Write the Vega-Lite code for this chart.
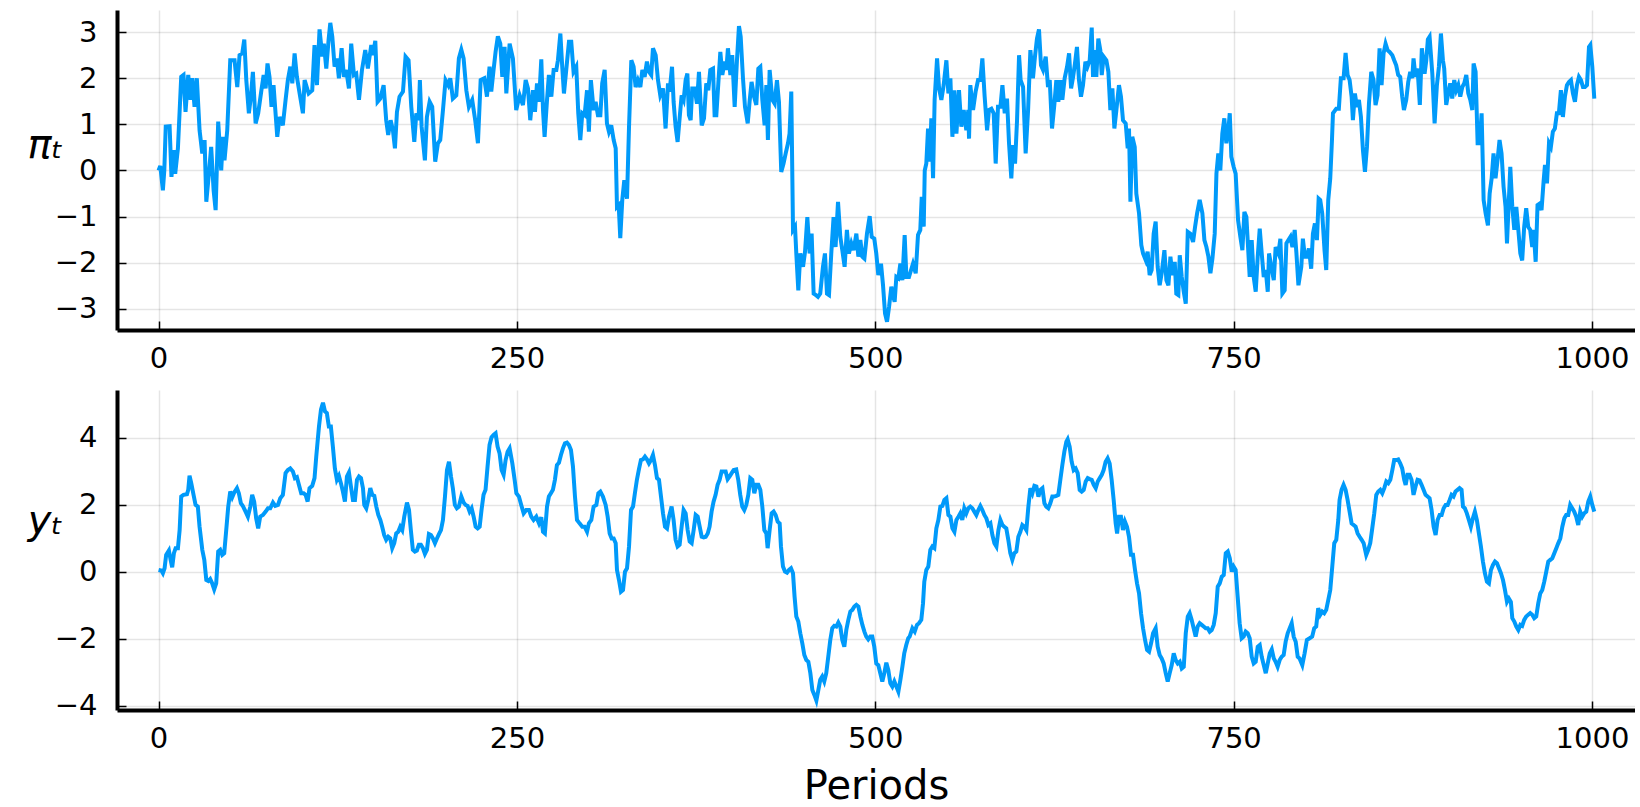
{
"$schema":"https://vega.github.io/schema/vega-lite/v6.json",
"background":"white",
"padding":{"left":27,"top":10,"right":0,"bottom":0},
"spacing":17,
"config":{
 "view":{"stroke":null},
 "font":"DejaVu Sans",
 "axis":{"domainColor":"black","domainWidth":4,"tickColor":"black","tickWidth":1.5,"tickSize":-9,"labelFontSize":29,"labelColor":"black","labelFont":"DejaVu Sans","gridColor":"#000000","gridOpacity":0.1,"gridWidth":1.5,"titleFont":"DejaVu Sans","titleColor":"black","titleFontWeight":"normal","titleFontSize":40},
 "axisX":{"labelPadding":23,"format":"d"},
 "axisY":{"labelPadding":29,"titleAngle":0,"titleFontStyle":"italic","titleAlign":"center","titleBaseline":"alphabetic","titleX":-72}
},
"datasets":{
"pi":[{"t":0,"v":0},{"t":1.2,"v":0.1},{"t":3,"v":-0.43},{"t":4,"v":0},{"t":5,"v":0.95},{"t":7.7,"v":0.96},{"t":9,"v":-0.14},{"t":10.5,"v":0.44},{"t":11.6,"v":-0.07},{"t":13.5,"v":0.48},{"t":15.8,"v":2.03},{"t":17.4,"v":2.07},{"t":18.8,"v":1.27},{"t":20.7,"v":2.07},{"t":22.3,"v":1.53},{"t":23.5,"v":2.0},{"t":25.1,"v":1.38},{"t":26.7,"v":2.0},{"t":28.6,"v":0.87},{"t":30.5,"v":0.37},{"t":32.1,"v":0.66},{"t":33.3,"v":-0.68},{"t":34.7,"v":-0.21},{"t":36.7,"v":0.51},{"t":38.4,"v":-0.43},{"t":39.8,"v":-0.86},{"t":41.6,"v":1.06},{"t":43.7,"v":0},{"t":44.9,"v":0.73},{"t":46,"v":0.22},{"t":47.9,"v":0.87},{"t":50,"v":2.39},{"t":53,"v":2.39},{"t":54.9,"v":1.81},{"t":56.5,"v":2.5},{"t":58.4,"v":2.54},{"t":59.8,"v":2.84},{"t":61.2,"v":1.96},{"t":63,"v":1.24},{"t":64.4,"v":1.6},{"t":65.8,"v":2.14},{"t":67.7,"v":1.02},{"t":69.5,"v":1.24},{"t":71.6,"v":1.71},{"t":73.3,"v":2.07},{"t":74.7,"v":1.78},{"t":76,"v":2.32},{"t":77.4,"v":2.03},{"t":78.8,"v":1.38},{"t":80.2,"v":1.85},{"t":82.8,"v":0.73},{"t":84.4,"v":1.16},{"t":86.7,"v":0.98},{"t":88.6,"v":1.53},{"t":90.2,"v":1.96},{"t":91.9,"v":2.25},{"t":93.3,"v":1.89},{"t":94.9,"v":2.54},{"t":96.5,"v":2.03},{"t":98.4,"v":1.67},{"t":100.7,"v":1.24},{"t":101.9,"v":1.96},{"t":104.7,"v":1.67},{"t":107.2,"v":1.74},{"t":108.8,"v":2.72},{"t":110.5,"v":1.85},{"t":112.3,"v":3.06},{"t":114.2,"v":2.47},{"t":115.3,"v":2.75},{"t":117,"v":2.21},{"t":118.6,"v":2.83},{"t":119.8,"v":3.2},{"t":121.2,"v":2.9},{"t":122.8,"v":2.25},{"t":124.4,"v":2.43},{"t":125.8,"v":2.0},{"t":127.7,"v":2.65},{"t":129.3,"v":2.03},{"t":130.9,"v":2.18},{"t":132.8,"v":1.78},{"t":134.4,"v":2.75},{"t":136.3,"v":2.07},{"t":137.9,"v":2.1},{"t":139.8,"v":1.53},{"t":141.9,"v":2.18},{"t":144.2,"v":2.61},{"t":146,"v":2.21},{"t":148.4,"v":2.72},{"t":149.5,"v":2.5},{"t":151.2,"v":2.81},{"t":152.8,"v":1.49},{"t":154.7,"v":1.56},{"t":157,"v":1.85},{"t":158.8,"v":1.09},{"t":160.2,"v":0.77},{"t":161.9,"v":1.09},{"t":163.5,"v":0.87},{"t":164.9,"v":0.48},{"t":166.3,"v":1.27},{"t":168.1,"v":1.6},{"t":170.5,"v":1.71},{"t":172.3,"v":2.47},{"t":174.4,"v":2.39},{"t":176.3,"v":1.38},{"t":178.4,"v":0.62},{"t":179.8,"v":1.24},{"t":181.4,"v":1.09},{"t":182.3,"v":1.96},{"t":183.5,"v":0.95},{"t":185.8,"v":0.22},{"t":187.2,"v":1.16},{"t":189.1,"v":1.49},{"t":190.9,"v":1.38},{"t":193,"v":0.19},{"t":194.9,"v":0.59},{"t":196.5,"v":0.66},{"t":198.4,"v":1.31},{"t":200.2,"v":1.96},{"t":202.1,"v":1.85},{"t":203.5,"v":2.0},{"t":205.3,"v":1.56},{"t":207.7,"v":1.63},{"t":209.5,"v":2.43},{"t":211.2,"v":2.62},{"t":212.8,"v":2.43},{"t":214.7,"v":1.74},{"t":216.5,"v":1.38},{"t":218.8,"v":1.53},{"t":220.9,"v":1.09},{"t":222.8,"v":0.59},{"t":224.7,"v":1.96},{"t":227.2,"v":2.0},{"t":229.1,"v":1.6},{"t":230.9,"v":2.25},{"t":232.1,"v":1.71},{"t":233.7,"v":2.18},{"t":235.1,"v":2.57},{"t":236.7,"v":2.91},{"t":238.4,"v":2.75},{"t":239.8,"v":2.03},{"t":241.4,"v":2.68},{"t":242.6,"v":1.67},{"t":244.9,"v":2.75},{"t":247.2,"v":2.43},{"t":249.5,"v":1.31},{"t":251.9,"v":1.63},{"t":254.2,"v":1.42},{"t":256.1,"v":1.96},{"t":257.7,"v":1.78},{"t":259.3,"v":1.09},{"t":261.2,"v":1.74},{"t":262.6,"v":1.27},{"t":264,"v":1.89},{"t":265.4,"v":1.49},{"t":267,"v":2.41},{"t":268.2,"v":1.31},{"t":269.3,"v":0.73},{"t":271,"v":1.53},{"t":272.3,"v":2.07},{"t":274,"v":1.6},{"t":275.6,"v":2.18},{"t":277.5,"v":2.18},{"t":278.6,"v":2.39},{"t":280.3,"v":2.97},{"t":281.6,"v":2.25},{"t":282.8,"v":1.67},{"t":284.4,"v":2.18},{"t":286.3,"v":2.79},{"t":287.9,"v":2.79},{"t":289.5,"v":2.14},{"t":291.4,"v":2.25},{"t":292.8,"v":1.24},{"t":294.2,"v":0.66},{"t":295.6,"v":1.24},{"t":297.2,"v":1.2},{"t":298.9,"v":1.74},{"t":300.2,"v":0.84},{"t":301.6,"v":1.96},{"t":303.5,"v":1.31},{"t":304.9,"v":1.49},{"t":306.5,"v":1.2},{"t":308.2,"v":1.2},{"t":309.5,"v":1.89},{"t":311.2,"v":2.18},{"t":312.8,"v":1.02},{"t":314.2,"v":0.84},{"t":315.8,"v":0.98},{"t":317.5,"v":0.66},{"t":318.9,"v":0.48},{"t":319.8,"v":-0.79},{"t":321,"v":-0.75},{"t":322.1,"v":-1.47},{"t":323.5,"v":-0.64},{"t":324.9,"v":-0.21},{"t":326.8,"v":-0.61},{"t":328.2,"v":0.95},{"t":329.8,"v":2.39},{"t":331.4,"v":2.25},{"t":332.8,"v":1.81},{"t":334.4,"v":1.96},{"t":336.1,"v":1.81},{"t":337.5,"v":2.18},{"t":339.1,"v":2.03},{"t":340.7,"v":2.36},{"t":342.1,"v":2.14},{"t":343.7,"v":2.07},{"t":344.9,"v":2.65},{"t":346.8,"v":2.5},{"t":348.4,"v":1.96},{"t":350,"v":1.63},{"t":351.9,"v":1.78},{"t":353.7,"v":0.91},{"t":355.4,"v":1.89},{"t":356.5,"v":1.71},{"t":358.2,"v":2.25},{"t":359.3,"v":1.49},{"t":360.7,"v":0.95},{"t":362.1,"v":0.62},{"t":363.5,"v":1.13},{"t":364.9,"v":1.63},{"t":366.3,"v":1.53},{"t":367.7,"v":1.96},{"t":368.9,"v":2.1},{"t":370,"v":1.2},{"t":371.2,"v":1.09},{"t":372.3,"v":1.78},{"t":374,"v":1.78},{"t":375.6,"v":1.45},{"t":377,"v":2.14},{"t":378.9,"v":0.98},{"t":380.5,"v":1.13},{"t":382.1,"v":1.89},{"t":383.5,"v":1.74},{"t":384.9,"v":2.18},{"t":386.8,"v":2.21},{"t":387.9,"v":1.2},{"t":389.1,"v":1.2},{"t":390.5,"v":1.89},{"t":391.9,"v":2.57},{"t":393.3,"v":2.07},{"t":394.9,"v":2.36},{"t":396.1,"v":2.18},{"t":397.2,"v":2.65},{"t":398.9,"v":2.07},{"t":400.2,"v":2.5},{"t":401.9,"v":1.38},{"t":403.5,"v":2.39},{"t":404.9,"v":3.13},{"t":406.1,"v":2.9},{"t":407.7,"v":2.0},{"t":409.1,"v":1.38},{"t":411,"v":1.02},{"t":412.3,"v":1.49},{"t":413.7,"v":1.92},{"t":415.4,"v":1.6},{"t":417,"v":1.42},{"t":418.4,"v":2.21},{"t":419.8,"v":2.25},{"t":421.2,"v":1.53},{"t":422.8,"v":0.98},{"t":424,"v":1.85},{"t":425.1,"v":0.66},{"t":426.3,"v":2.18},{"t":428.2,"v":1.53},{"t":429.8,"v":1.45},{"t":431.4,"v":1.96},{"t":432.8,"v":1.49},{"t":434.4,"v":-0.03},{"t":436,"v":0.15},{"t":437.5,"v":0.37},{"t":439.1,"v":0.59},{"t":440.2,"v":0.8},{"t":441.4,"v":1.71},{"t":442.6,"v":-1.29},{"t":444,"v":-1.22},{"t":444.9,"v":-1.8},{"t":446.3,"v":-2.6},{"t":447.7,"v":-1.8},{"t":449.6,"v":-2.09},{"t":451,"v":-1.76},{"t":452.6,"v":-1.01},{"t":454.2,"v":-1.8},{"t":455.6,"v":-1.37},{"t":457,"v":-2.67},{"t":458.4,"v":-2.7},{"t":460,"v":-2.74},{"t":461.6,"v":-2.67},{"t":463.5,"v":-2.09},{"t":464.9,"v":-1.8},{"t":466.3,"v":-2.67},{"t":467.7,"v":-2.7},{"t":469.3,"v":-1.8},{"t":470.9,"v":-1.01},{"t":472.3,"v":-1.66},{"t":474,"v":-0.68},{"t":475.6,"v":-1.44},{"t":477,"v":-1.73},{"t":478.6,"v":-2.09},{"t":480.2,"v":-1.29},{"t":481.6,"v":-1.8},{"t":483.3,"v":-1.58},{"t":484.9,"v":-1.73},{"t":486.8,"v":-1.37},{"t":488.2,"v":-1.87},{"t":489.6,"v":-1.51},{"t":491,"v":-1.87},{"t":492.4,"v":-1.91},{"t":494.2,"v":-1.37},{"t":496.1,"v":-0.99},{"t":497.5,"v":-1.44},{"t":499.3,"v":-1.48},{"t":500.7,"v":-1.8},{"t":502.1,"v":-2.27},{"t":504,"v":-2.02},{"t":505.4,"v":-2.49},{"t":506.8,"v":-3.1},{"t":508.2,"v":-3.28},{"t":509.6,"v":-2.96},{"t":511.2,"v":-2.52},{"t":512.3,"v":-2.7},{"t":513.5,"v":-2.85},{"t":514.7,"v":-2.31},{"t":516.1,"v":-2.34},{"t":517.5,"v":-2.02},{"t":518.9,"v":-2.38},{"t":520.5,"v":-1.4},{"t":521.7,"v":-2.31},{"t":523.5,"v":-2.31},{"t":526.3,"v":-2.02},{"t":528.2,"v":-2.23},{"t":529.8,"v":-1.4},{"t":531.4,"v":-1.29},{"t":532.4,"v":-0.57},{"t":533.8,"v":-1.22},{"t":534.5,"v":0.0},{"t":535.6,"v":0.15},{"t":536.8,"v":0.91},{"t":538,"v":0.19},{"t":539.1,"v":1.13},{"t":540.3,"v":-0.17},{"t":541.4,"v":1.53},{"t":543.1,"v":2.43},{"t":544.5,"v":1.78},{"t":546.1,"v":1.53},{"t":547.7,"v":1.85},{"t":549.6,"v":2.39},{"t":551,"v":1.67},{"t":552.4,"v":2.0},{"t":553.8,"v":0.73},{"t":555.2,"v":1.74},{"t":556.6,"v":0.8},{"t":558.4,"v":1.74},{"t":560,"v":0.95},{"t":561.7,"v":1.31},{"t":563.5,"v":0.87},{"t":564.9,"v":1.31},{"t":565.4,"v":0.69},{"t":566.3,"v":1.85},{"t":568.2,"v":1.31},{"t":570,"v":1.71},{"t":571.7,"v":1.96},{"t":573.3,"v":1.96},{"t":574.7,"v":2.43},{"t":576.3,"v":1.6},{"t":578,"v":0.87},{"t":579.3,"v":1.31},{"t":581,"v":1.34},{"t":582.6,"v":1.24},{"t":584,"v":0.15},{"t":585.6,"v":1.38},{"t":587.3,"v":1.38},{"t":588.7,"v":1.85},{"t":590.3,"v":1.24},{"t":591.9,"v":1.56},{"t":593.3,"v":0.59},{"t":594.9,"v":-0.17},{"t":596.1,"v":0.55},{"t":597.5,"v":0.15},{"t":598.9,"v":1.09},{"t":600.3,"v":2.5},{"t":601.4,"v":1.96},{"t":603.1,"v":1.81},{"t":604.9,"v":0.37},{"t":606.6,"v":1.31},{"t":608.2,"v":2.61},{"t":610,"v":2.0},{"t":611.4,"v":2.47},{"t":612.8,"v":2.86},{"t":614.2,"v":3.06},{"t":615.6,"v":2.28},{"t":617,"v":2.18},{"t":618.9,"v":2.47},{"t":620.5,"v":1.81},{"t":621.7,"v":1.96},{"t":623.3,"v":0.91},{"t":624.9,"v":1.42},{"t":626.3,"v":1.96},{"t":627.7,"v":1.49},{"t":629.1,"v":1.96},{"t":630.5,"v":1.53},{"t":632.1,"v":2.0},{"t":633.8,"v":2.25},{"t":635.2,"v":2.54},{"t":636.6,"v":1.78},{"t":638,"v":2.03},{"t":639.3,"v":2.32},{"t":640.7,"v":2.68},{"t":642.1,"v":1.96},{"t":643.5,"v":1.6},{"t":644.9,"v":1.85},{"t":646.6,"v":2.36},{"t":648,"v":2.25},{"t":649.6,"v":2.39},{"t":651,"v":3.1},{"t":651.9,"v":2.03},{"t":653.3,"v":2.61},{"t":654.2,"v":2.03},{"t":655.6,"v":2.86},{"t":657,"v":2.61},{"t":658,"v":2.07},{"t":659.3,"v":2.47},{"t":661.2,"v":2.39},{"t":662.6,"v":2.14},{"t":664,"v":1.31},{"t":665.4,"v":1.78},{"t":666.8,"v":0.91},{"t":668.2,"v":1.31},{"t":670,"v":1.85},{"t":671.4,"v":1.6},{"t":672.8,"v":1.09},{"t":674.7,"v":1.02},{"t":676.1,"v":0.48},{"t":677,"v":0.91},{"t":678,"v":-0.68},{"t":679.3,"v":0.73},{"t":681,"v":0.51},{"t":682.1,"v":-0.5},{"t":684,"v":-0.93},{"t":685.6,"v":-1.62},{"t":686.8,"v":-1.8},{"t":688.7,"v":-1.95},{"t":690,"v":-1.76},{"t":691.4,"v":-2.27},{"t":692.8,"v":-2.16},{"t":694.2,"v":-1.37},{"t":695.6,"v":-1.11},{"t":697,"v":-2.09},{"t":698.4,"v":-2.49},{"t":699.8,"v":-2.23},{"t":701.7,"v":-1.73},{"t":703.1,"v":-2.38},{"t":704.5,"v":-2.49},{"t":705.9,"v":-1.87},{"t":707.3,"v":-2.27},{"t":708.9,"v":-1.98},{"t":710,"v":-2.67},{"t":711.4,"v":-2.7},{"t":712.4,"v":-1.84},{"t":713.8,"v":-2.31},{"t":715.2,"v":-2.63},{"t":716.6,"v":-2.89},{"t":718,"v":-1.33},{"t":719.8,"v":-1.37},{"t":721.7,"v":-1.55},{"t":723.1,"v":-1.22},{"t":724.5,"v":-0.93},{"t":726.3,"v":-0.64},{"t":728.2,"v":-0.93},{"t":729.6,"v":-1.51},{"t":731,"v":-1.66},{"t":732.4,"v":-1.87},{"t":733.8,"v":-2.23},{"t":735.2,"v":-1.91},{"t":736.8,"v":-1.37},{"t":738,"v":-0.07},{"t":739.3,"v":0.37},{"t":740.7,"v":0.0},{"t":742.1,"v":0.8},{"t":743.5,"v":1.13},{"t":744.9,"v":0.59},{"t":746.3,"v":0.87},{"t":747.3,"v":1.24},{"t":748.4,"v":0.3},{"t":750,"v":0.08},{"t":751.4,"v":-0.07},{"t":753.1,"v":-1.08},{"t":754.7,"v":-1.44},{"t":756.1,"v":-1.73},{"t":757.5,"v":-0.9},{"t":758.9,"v":-1.01},{"t":760.3,"v":-1.8},{"t":761.2,"v":-2.31},{"t":762.6,"v":-1.51},{"t":764,"v":-2.31},{"t":765.4,"v":-2.63},{"t":766.8,"v":-1.87},{"t":768.2,"v":-1.26},{"t":769.6,"v":-1.8},{"t":771,"v":-2.31},{"t":772.4,"v":-2.16},{"t":773.8,"v":-2.63},{"t":774.7,"v":-1.8},{"t":776.3,"v":-2.09},{"t":778,"v":-2.38},{"t":779.3,"v":-1.66},{"t":781.2,"v":-1.8},{"t":782.6,"v":-1.48},{"t":784,"v":-2.67},{"t":785.6,"v":-2.6},{"t":786.8,"v":-1.58},{"t":788.2,"v":-1.51},{"t":789.6,"v":-1.44},{"t":791,"v":-1.66},{"t":792.6,"v":-1.29},{"t":793.8,"v":-1.8},{"t":795.2,"v":-2.49},{"t":797.2,"v":-2.09},{"t":798.3,"v":-1.48},{"t":799.7,"v":-1.87},{"t":801.1,"v":-1.87},{"t":802.5,"v":-1.69},{"t":804.1,"v":-2.13},{"t":805.3,"v":-1.37},{"t":806.7,"v":-1.15},{"t":808.1,"v":-1.51},{"t":809.3,"v":-0.61},{"t":810.4,"v":-0.64},{"t":811.8,"v":-0.93},{"t":813.4,"v":-1.73},{"t":814.6,"v":-2.16},{"t":816,"v":-0.64},{"t":817.4,"v":-0.17},{"t":818.6,"v":0.66},{"t":819.3,"v":1.24},{"t":821.6,"v":1.34},{"t":823.4,"v":1.34},{"t":824.8,"v":2.0},{"t":826.7,"v":2.0},{"t":828.1,"v":2.55},{"t":829.5,"v":2.07},{"t":830.9,"v":1.96},{"t":832.3,"v":1.6},{"t":833.2,"v":1.09},{"t":834.6,"v":1.67},{"t":836,"v":1.38},{"t":837.4,"v":1.53},{"t":838.8,"v":1.16},{"t":840.2,"v":0.44},{"t":841.6,"v":-0.03},{"t":843,"v":0.51},{"t":844.4,"v":1.45},{"t":846,"v":2.14},{"t":847.6,"v":1.96},{"t":849,"v":1.42},{"t":850.4,"v":1.63},{"t":851.8,"v":2.65},{"t":853.2,"v":1.85},{"t":854.6,"v":2.54},{"t":856,"v":2.75},{"t":857.4,"v":2.61},{"t":858.8,"v":2.57},{"t":860.7,"v":2.5},{"t":862,"v":2.39},{"t":863.4,"v":2.28},{"t":864.8,"v":2.07},{"t":866.2,"v":2.03},{"t":867.6,"v":1.6},{"t":868.8,"v":1.31},{"t":870.4,"v":1.53},{"t":871.8,"v":1.92},{"t":873.2,"v":2.14},{"t":874.6,"v":2.0},{"t":875.5,"v":2.43},{"t":876.9,"v":2.03},{"t":878.3,"v":2.21},{"t":879.9,"v":1.42},{"t":881.3,"v":2.65},{"t":883.2,"v":2.1},{"t":884.4,"v":2.39},{"t":885.5,"v":2.84},{"t":886.7,"v":2.9},{"t":888.6,"v":2.1},{"t":890.2,"v":1.02},{"t":891.8,"v":1.85},{"t":893.2,"v":2.25},{"t":894.6,"v":2.97},{"t":896,"v":2.39},{"t":896.9,"v":2.21},{"t":898.3,"v":1.42},{"t":899.7,"v":1.67},{"t":901.1,"v":1.89},{"t":902.5,"v":1.56},{"t":903.9,"v":1.96},{"t":905.3,"v":1.74},{"t":906.7,"v":1.85},{"t":908.1,"v":1.6},{"t":909.5,"v":1.81},{"t":910.9,"v":1.89},{"t":912.3,"v":2.07},{"t":913.7,"v":1.67},{"t":915.1,"v":1.53},{"t":916.5,"v":1.31},{"t":917.4,"v":2.32},{"t":918.8,"v":2.14},{"t":920.2,"v":0.59},{"t":921.6,"v":0.59},{"t":923,"v":1.24},{"t":924.4,"v":-0.64},{"t":925.8,"v":-0.93},{"t":927.4,"v":-1.19},{"t":928.6,"v":-0.5},{"t":930,"v":-0.17},{"t":931.3,"v":0.37},{"t":932.7,"v":-0.17},{"t":934.1,"v":0.22},{"t":935.5,"v":0.66},{"t":936.9,"v":0.37},{"t":938.3,"v":-0.35},{"t":939.7,"v":-0.79},{"t":940.7,"v":-1.58},{"t":942,"v":-0.64},{"t":943,"v":0.08},{"t":944.4,"v":-0.79},{"t":945.8,"v":-1.29},{"t":947.2,"v":-0.79},{"t":948.6,"v":-1.29},{"t":950,"v":-1.8},{"t":951.3,"v":-1.95},{"t":952.7,"v":-1.22},{"t":954.1,"v":-0.82},{"t":955.5,"v":-1.22},{"t":956.9,"v":-1.29},{"t":958.3,"v":-1.66},{"t":959.3,"v":-1.29},{"t":960.7,"v":-1.98},{"t":962,"v":-0.75},{"t":963.4,"v":-0.72},{"t":964.8,"v":-0.86},{"t":966.2,"v":-0.25},{"t":967.2,"v":0.12},{"t":968.6,"v":-0.28},{"t":970,"v":0.59},{"t":971.3,"v":0.51},{"t":972.7,"v":0.84},{"t":974.1,"v":0.91},{"t":975.5,"v":1.24},{"t":976.9,"v":1.24},{"t":978.3,"v":1.74},{"t":979.7,"v":1.16},{"t":981.1,"v":1.6},{"t":982.5,"v":1.85},{"t":983.9,"v":1.92},{"t":985.3,"v":1.96},{"t":986.7,"v":1.67},{"t":988.1,"v":1.49},{"t":989.5,"v":1.85},{"t":990.9,"v":2.03},{"t":992.3,"v":1.96},{"t":993.7,"v":1.81},{"t":995.1,"v":1.81},{"t":996.5,"v":1.85},{"t":997.9,"v":2.68},{"t":998.8,"v":2.72},{"t":1000.2,"v":2.25},{"t":1001.6,"v":1.56}],
"y":[{"t":0,"v":0.05},{"t":1.9,"v":0.03},{"t":3,"v":-0.05},{"t":4.2,"v":0.1},{"t":5.3,"v":0.5},{"t":7.2,"v":0.63},{"t":8.4,"v":0.35},{"t":9.5,"v":0.13},{"t":10.7,"v":0.55},{"t":11.9,"v":0.7},{"t":13.5,"v":0.7},{"t":14.7,"v":1.24},{"t":15.8,"v":2.24},{"t":17.4,"v":2.29},{"t":19.8,"v":2.31},{"t":20.7,"v":2.44},{"t":21.6,"v":2.86},{"t":22.8,"v":2.64},{"t":24.4,"v":2.29},{"t":25.8,"v":1.99},{"t":27.4,"v":1.94},{"t":28.6,"v":1.34},{"t":30.5,"v":0.65},{"t":31.9,"v":0.35},{"t":33.3,"v":-0.25},{"t":34.7,"v":-0.28},{"t":36,"v":-0.22},{"t":37.4,"v":-0.35},{"t":38.8,"v":-0.53},{"t":40.2,"v":-0.35},{"t":41.6,"v":0.6},{"t":43,"v":0.65},{"t":44.4,"v":0.5},{"t":45.8,"v":0.55},{"t":47.2,"v":1.24},{"t":48.6,"v":1.94},{"t":50,"v":2.39},{"t":51.4,"v":2.22},{"t":52.8,"v":2.36},{"t":54.7,"v":2.49},{"t":56,"v":2.34},{"t":57.4,"v":2.04},{"t":58.8,"v":1.96},{"t":60.7,"v":1.79},{"t":62.3,"v":1.64},{"t":64,"v":1.94},{"t":65.3,"v":2.29},{"t":66.7,"v":2.09},{"t":68.1,"v":1.59},{"t":69.5,"v":1.29},{"t":70.9,"v":1.64},{"t":72.8,"v":1.69},{"t":74.7,"v":1.79},{"t":76.3,"v":1.89},{"t":77.9,"v":1.89},{"t":79.8,"v":2.06},{"t":81.4,"v":1.96},{"t":83.3,"v":1.99},{"t":84.9,"v":2.19},{"t":86.7,"v":2.29},{"t":88.6,"v":2.94},{"t":90.2,"v":3.03},{"t":91.9,"v":3.08},{"t":93.7,"v":2.99},{"t":95.1,"v":2.79},{"t":96.5,"v":2.82},{"t":97.9,"v":2.59},{"t":99.5,"v":2.34},{"t":101.2,"v":2.34},{"t":102.6,"v":2.29},{"t":104,"v":2.09},{"t":105.3,"v":2.49},{"t":107.2,"v":2.56},{"t":108.8,"v":2.79},{"t":110,"v":3.43},{"t":111.9,"v":4.33},{"t":113.3,"v":4.83},{"t":114.7,"v":5.04},{"t":116.1,"v":4.78},{"t":117.4,"v":4.73},{"t":118.8,"v":4.33},{"t":120.2,"v":4.33},{"t":121.6,"v":3.73},{"t":123,"v":3.08},{"t":124.4,"v":2.74},{"t":125.8,"v":2.86},{"t":127.2,"v":2.64},{"t":128.6,"v":2.39},{"t":130,"v":2.09},{"t":131.4,"v":2.84},{"t":132.8,"v":2.96},{"t":134.2,"v":2.54},{"t":135.6,"v":2.14},{"t":137,"v":2.14},{"t":138.4,"v":2.74},{"t":139.8,"v":2.84},{"t":141.2,"v":2.79},{"t":142.6,"v":2.49},{"t":143.5,"v":1.99},{"t":144.9,"v":1.89},{"t":146.3,"v":2.14},{"t":147.7,"v":2.49},{"t":149.1,"v":2.29},{"t":150.5,"v":2.26},{"t":151.9,"v":1.94},{"t":153.3,"v":1.69},{"t":154.7,"v":1.54},{"t":156,"v":1.34},{"t":157.4,"v":1.09},{"t":158.8,"v":0.95},{"t":160.2,"v":1.04},{"t":161.6,"v":0.99},{"t":163,"v":0.7},{"t":164.4,"v":0.85},{"t":165.8,"v":1.14},{"t":167.2,"v":1.19},{"t":168.6,"v":1.34},{"t":170,"v":1.24},{"t":171.4,"v":1.64},{"t":173.3,"v":2.06},{"t":174.7,"v":1.84},{"t":176,"v":1.24},{"t":177.4,"v":0.65},{"t":178.8,"v":0.6},{"t":180.2,"v":0.63},{"t":181.6,"v":0.8},{"t":183,"v":0.8},{"t":184.4,"v":0.7},{"t":185.8,"v":0.53},{"t":187.2,"v":0.65},{"t":188.6,"v":1.12},{"t":190,"v":1.09},{"t":191.4,"v":0.99},{"t":192.8,"v":0.85},{"t":194.2,"v":0.99},{"t":195.6,"v":1.12},{"t":197,"v":1.24},{"t":198.4,"v":1.54},{"t":199.8,"v":2.24},{"t":201.2,"v":3.03},{"t":202.6,"v":3.28},{"t":204,"v":2.84},{"t":205.3,"v":2.49},{"t":206.7,"v":1.99},{"t":208.1,"v":1.89},{"t":209.5,"v":1.94},{"t":211.2,"v":2.24},{"t":212.8,"v":2.06},{"t":214.2,"v":1.99},{"t":215.6,"v":1.96},{"t":217,"v":1.79},{"t":218.4,"v":1.89},{"t":219.8,"v":1.64},{"t":221.2,"v":1.34},{"t":222.6,"v":1.29},{"t":224,"v":1.34},{"t":225.3,"v":1.84},{"t":226.7,"v":2.29},{"t":228.1,"v":2.44},{"t":229.5,"v":3.13},{"t":230.9,"v":3.78},{"t":232.3,"v":4.01},{"t":233.7,"v":4.08},{"t":235.1,"v":4.13},{"t":236.5,"v":3.73},{"t":237.9,"v":3.53},{"t":239.3,"v":3.03},{"t":240.7,"v":2.89},{"t":242.1,"v":3.33},{"t":243.5,"v":3.58},{"t":244.9,"v":3.68},{"t":246.8,"v":3.23},{"t":248.4,"v":2.74},{"t":249.6,"v":2.34},{"t":251.4,"v":2.24},{"t":253,"v":1.99},{"t":254.7,"v":1.74},{"t":256.5,"v":1.84},{"t":258.4,"v":1.84},{"t":260,"v":1.64},{"t":261.6,"v":1.54},{"t":263.5,"v":1.64},{"t":265.4,"v":1.44},{"t":267,"v":1.62},{"t":268.2,"v":1.19},{"t":269.5,"v":1.14},{"t":271,"v":1.94},{"t":272.3,"v":2.24},{"t":273.7,"v":2.34},{"t":275.1,"v":2.44},{"t":276.5,"v":2.74},{"t":277.9,"v":3.18},{"t":279.3,"v":3.25},{"t":280.7,"v":3.48},{"t":282.1,"v":3.68},{"t":283.5,"v":3.83},{"t":284.9,"v":3.85},{"t":286.3,"v":3.78},{"t":287.7,"v":3.63},{"t":289.1,"v":3.13},{"t":290.5,"v":2.24},{"t":291.9,"v":1.54},{"t":293.7,"v":1.44},{"t":295.6,"v":1.34},{"t":297.2,"v":1.34},{"t":298.9,"v":1.19},{"t":300.2,"v":1.44},{"t":301.9,"v":1.54},{"t":303.5,"v":1.94},{"t":305.4,"v":1.99},{"t":306.8,"v":2.34},{"t":308.2,"v":2.39},{"t":310,"v":2.24},{"t":311.9,"v":1.99},{"t":313.3,"v":1.64},{"t":314.7,"v":1.14},{"t":316.1,"v":0.99},{"t":317.5,"v":0.99},{"t":318.9,"v":0.85},{"t":319.8,"v":0.05},{"t":321.2,"v":-0.25},{"t":322.6,"v":-0.6},{"t":324,"v":-0.55},{"t":325.4,"v":0.0},{"t":326.8,"v":0.1},{"t":328.2,"v":0.75},{"t":329.6,"v":1.84},{"t":331,"v":1.94},{"t":332.3,"v":2.34},{"t":333.7,"v":2.74},{"t":335.1,"v":3.05},{"t":336.5,"v":3.33},{"t":337.9,"v":3.35},{"t":339.3,"v":3.43},{"t":340.7,"v":3.35},{"t":342.1,"v":3.23},{"t":343.5,"v":3.33},{"t":344.9,"v":3.48},{"t":346.3,"v":3.18},{"t":347.7,"v":2.79},{"t":349.1,"v":2.74},{"t":350.5,"v":2.24},{"t":351.9,"v":1.74},{"t":353.3,"v":1.34},{"t":354.7,"v":1.29},{"t":356.1,"v":1.64},{"t":357.9,"v":1.94},{"t":359.3,"v":1.54},{"t":360.7,"v":0.95},{"t":362.1,"v":0.75},{"t":363.5,"v":0.8},{"t":364.9,"v":1.34},{"t":366.3,"v":1.84},{"t":367.7,"v":1.74},{"t":369.1,"v":1.24},{"t":370.5,"v":0.9},{"t":371.9,"v":0.85},{"t":373.3,"v":1.24},{"t":374.7,"v":1.69},{"t":376.1,"v":1.64},{"t":377.5,"v":1.34},{"t":378.9,"v":1.04},{"t":380.3,"v":1.02},{"t":381.7,"v":1.04},{"t":383.1,"v":1.14},{"t":384.4,"v":1.34},{"t":385.8,"v":1.79},{"t":387.2,"v":2.09},{"t":388.6,"v":2.29},{"t":390,"v":2.59},{"t":391.4,"v":2.74},{"t":392.8,"v":2.99},{"t":394.2,"v":2.99},{"t":395.6,"v":2.99},{"t":397,"v":2.76},{"t":398.4,"v":2.84},{"t":399.8,"v":2.94},{"t":401.2,"v":3.03},{"t":403,"v":3.05},{"t":404.4,"v":2.74},{"t":405.8,"v":2.29},{"t":407.2,"v":1.94},{"t":408.6,"v":1.84},{"t":410,"v":1.99},{"t":411.4,"v":2.29},{"t":412.8,"v":2.79},{"t":414.2,"v":2.74},{"t":415.6,"v":2.34},{"t":417,"v":2.59},{"t":418.4,"v":2.59},{"t":419.8,"v":2.44},{"t":421.2,"v":1.94},{"t":422.6,"v":1.24},{"t":424,"v":1.14},{"t":424.9,"v":0.7},{"t":426.3,"v":1.24},{"t":427.7,"v":1.74},{"t":429.1,"v":1.79},{"t":430.5,"v":1.69},{"t":431.9,"v":1.49},{"t":433.3,"v":1.44},{"t":434.2,"v":0.75},{"t":435.6,"v":0.15},{"t":437,"v":0.0},{"t":438.4,"v":-0.03},{"t":439.8,"v":0.05},{"t":441.2,"v":0.1},{"t":442.6,"v":-0.05},{"t":443.7,"v":-0.75},{"t":444.9,"v":-1.34},{"t":446.3,"v":-1.49},{"t":447.7,"v":-1.84},{"t":449.1,"v":-2.14},{"t":450.5,"v":-2.49},{"t":451.9,"v":-2.64},{"t":453.3,"v":-2.69},{"t":454.7,"v":-3.03},{"t":456.1,"v":-3.53},{"t":457.5,"v":-3.68},{"t":458.9,"v":-3.85},{"t":460.3,"v":-3.53},{"t":461.6,"v":-3.23},{"t":463,"v":-3.13},{"t":464.4,"v":-3.28},{"t":465.8,"v":-3.03},{"t":467.2,"v":-2.54},{"t":468.6,"v":-2.04},{"t":470,"v":-1.69},{"t":471.4,"v":-1.62},{"t":472.8,"v":-1.64},{"t":474.2,"v":-1.52},{"t":475.6,"v":-1.64},{"t":477,"v":-2.04},{"t":478.4,"v":-2.24},{"t":479.8,"v":-1.74},{"t":481.2,"v":-1.44},{"t":482.6,"v":-1.19},{"t":484,"v":-1.14},{"t":485.4,"v":-1.04},{"t":486.8,"v":-0.99},{"t":488.2,"v":-1.04},{"t":489.6,"v":-1.34},{"t":491,"v":-1.59},{"t":492.4,"v":-1.79},{"t":493.7,"v":-1.94},{"t":495.1,"v":-2.02},{"t":496.5,"v":-1.94},{"t":497.9,"v":-1.94},{"t":499.3,"v":-2.24},{"t":500.7,"v":-2.74},{"t":502.1,"v":-2.79},{"t":503.5,"v":-3.03},{"t":504.9,"v":-3.28},{"t":506.3,"v":-3.03},{"t":507.7,"v":-2.72},{"t":509.1,"v":-2.94},{"t":510.5,"v":-3.33},{"t":511.9,"v":-3.43},{"t":513.3,"v":-3.28},{"t":514.7,"v":-3.43},{"t":516.1,"v":-3.58},{"t":517.5,"v":-3.23},{"t":518.9,"v":-2.84},{"t":520.2,"v":-2.44},{"t":521.6,"v":-2.19},{"t":523,"v":-1.99},{"t":524,"v":-1.94},{"t":525.9,"v":-1.69},{"t":527.5,"v":-1.79},{"t":529.1,"v":-1.59},{"t":530.5,"v":-1.54},{"t":532.1,"v":-1.44},{"t":533.3,"v":-0.95},{"t":534.2,"v":-0.3},{"t":535.6,"v":0.05},{"t":537,"v":0.15},{"t":538.4,"v":0.65},{"t":539.8,"v":0.75},{"t":541.2,"v":0.7},{"t":542.6,"v":1.29},{"t":544,"v":1.54},{"t":545.4,"v":1.94},{"t":546.8,"v":1.96},{"t":548.2,"v":2.14},{"t":549.6,"v":2.19},{"t":551,"v":1.69},{"t":552.4,"v":1.64},{"t":553.8,"v":1.29},{"t":555.2,"v":1.19},{"t":556.6,"v":1.54},{"t":558,"v":1.64},{"t":559.3,"v":1.74},{"t":560.7,"v":1.54},{"t":562.1,"v":1.89},{"t":563.5,"v":1.74},{"t":564.9,"v":1.89},{"t":566.3,"v":1.94},{"t":567.7,"v":1.89},{"t":569.1,"v":1.79},{"t":570.5,"v":1.69},{"t":571.9,"v":1.84},{"t":573.3,"v":1.96},{"t":574.7,"v":1.84},{"t":576.1,"v":1.69},{"t":577.5,"v":1.59},{"t":578.9,"v":1.39},{"t":580.3,"v":1.44},{"t":581.7,"v":1.09},{"t":583.1,"v":0.85},{"t":584.5,"v":0.75},{"t":585.9,"v":1.24},{"t":587.3,"v":1.54},{"t":588.7,"v":1.39},{"t":590,"v":1.34},{"t":591.4,"v":1.29},{"t":592.8,"v":0.95},{"t":594.2,"v":0.55},{"t":595.6,"v":0.35},{"t":597,"v":0.55},{"t":598.4,"v":0.6},{"t":599.8,"v":1.04},{"t":601.2,"v":1.19},{"t":602.6,"v":1.39},{"t":604,"v":1.34},{"t":605.4,"v":1.24},{"t":606.8,"v":1.94},{"t":608.2,"v":2.49},{"t":609.6,"v":2.34},{"t":611,"v":2.56},{"t":612.4,"v":2.54},{"t":613.8,"v":2.24},{"t":615.2,"v":2.44},{"t":616.6,"v":2.49},{"t":618,"v":2.04},{"t":619.3,"v":1.94},{"t":620.7,"v":1.89},{"t":622.1,"v":2.04},{"t":623.5,"v":2.24},{"t":624.9,"v":2.24},{"t":626.3,"v":2.26},{"t":627.7,"v":2.29},{"t":629.1,"v":2.74},{"t":630.5,"v":3.18},{"t":631.9,"v":3.58},{"t":633.3,"v":3.88},{"t":634.2,"v":3.95},{"t":635.6,"v":3.73},{"t":637,"v":3.28},{"t":638.4,"v":3.03},{"t":639.8,"v":3.08},{"t":641.2,"v":2.94},{"t":642.6,"v":2.44},{"t":644,"v":2.39},{"t":645.4,"v":2.44},{"t":646.8,"v":2.69},{"t":648.2,"v":2.79},{"t":649.6,"v":2.76},{"t":651,"v":2.74},{"t":652.4,"v":2.59},{"t":653.8,"v":2.49},{"t":655.2,"v":2.69},{"t":656.6,"v":2.79},{"t":658,"v":2.89},{"t":659.3,"v":3.03},{"t":660.7,"v":3.28},{"t":662.1,"v":3.38},{"t":663.5,"v":3.23},{"t":664.9,"v":2.74},{"t":666.3,"v":2.14},{"t":667.7,"v":1.44},{"t":668.7,"v":1.14},{"t":670,"v":1.64},{"t":671.4,"v":1.64},{"t":672.8,"v":1.24},{"t":674.2,"v":1.49},{"t":675.6,"v":1.34},{"t":677,"v":1.04},{"t":678.4,"v":0.5},{"t":679.8,"v":0.5},{"t":681.2,"v":0.05},{"t":682.6,"v":-0.35},{"t":684,"v":-0.65},{"t":685.4,"v":-1.24},{"t":686.8,"v":-1.69},{"t":688.2,"v":-2.04},{"t":689.6,"v":-2.34},{"t":691,"v":-2.39},{"t":692.4,"v":-2.14},{"t":693.8,"v":-1.84},{"t":695.6,"v":-1.69},{"t":697,"v":-2.24},{"t":698.4,"v":-2.49},{"t":699.8,"v":-2.59},{"t":701.2,"v":-2.74},{"t":702.6,"v":-3.03},{"t":704,"v":-3.28},{"t":705.4,"v":-3.03},{"t":706.8,"v":-2.79},{"t":708.2,"v":-2.44},{"t":709.6,"v":-2.64},{"t":711,"v":-2.74},{"t":712.4,"v":-2.69},{"t":713.8,"v":-2.89},{"t":715.2,"v":-2.84},{"t":716.6,"v":-1.84},{"t":718,"v":-1.34},{"t":719.3,"v":-1.24},{"t":720.7,"v":-1.44},{"t":722.1,"v":-1.69},{"t":723.5,"v":-1.94},{"t":724.9,"v":-1.64},{"t":726.3,"v":-1.54},{"t":727.7,"v":-1.59},{"t":729.1,"v":-1.64},{"t":730.5,"v":-1.69},{"t":731.9,"v":-1.69},{"t":733.3,"v":-1.79},{"t":734.7,"v":-1.74},{"t":736.1,"v":-1.59},{"t":737.5,"v":-1.24},{"t":738.9,"v":-0.45},{"t":740.3,"v":-0.35},{"t":741.7,"v":-0.15},{"t":743.1,"v":-0.1},{"t":744.5,"v":0.55},{"t":745.9,"v":0.6},{"t":747.3,"v":0.4},{"t":748.7,"v":0.0},{"t":750,"v":0.15},{"t":751.4,"v":0.05},{"t":752.8,"v":-0.75},{"t":754.2,"v":-1.54},{"t":755.6,"v":-1.99},{"t":757,"v":-1.94},{"t":758.4,"v":-1.79},{"t":759.8,"v":-1.84},{"t":761.2,"v":-1.99},{"t":762.6,"v":-2.54},{"t":764,"v":-2.74},{"t":765.4,"v":-2.69},{"t":766.8,"v":-2.24},{"t":768.2,"v":-2.19},{"t":769.6,"v":-2.54},{"t":771,"v":-2.79},{"t":772.4,"v":-3.03},{"t":773.8,"v":-2.74},{"t":775.2,"v":-2.44},{"t":776.6,"v":-2.32},{"t":778,"v":-2.59},{"t":779.3,"v":-2.69},{"t":780.7,"v":-2.84},{"t":782.1,"v":-2.64},{"t":783.5,"v":-2.54},{"t":784.9,"v":-2.49},{"t":786.3,"v":-2.09},{"t":787.7,"v":-1.84},{"t":789.1,"v":-1.69},{"t":790.5,"v":-1.54},{"t":791.9,"v":-1.94},{"t":793.3,"v":-2.09},{"t":794.7,"v":-2.54},{"t":796,"v":-2.59},{"t":797.9,"v":-2.79},{"t":799.5,"v":-2.44},{"t":801.1,"v":-2.04},{"t":803,"v":-1.99},{"t":804.8,"v":-1.94},{"t":806.2,"v":-1.69},{"t":807.6,"v":-1.64},{"t":809,"v":-1.09},{"t":810.4,"v":-1.29},{"t":811.8,"v":-1.19},{"t":813.2,"v":-1.24},{"t":814.6,"v":-1.14},{"t":816,"v":-0.85},{"t":817.4,"v":-0.55},{"t":818.8,"v":0.15},{"t":820.2,"v":0.85},{"t":821.6,"v":0.95},{"t":823,"v":1.54},{"t":823.9,"v":2.14},{"t":825.3,"v":2.44},{"t":826.7,"v":2.59},{"t":828.1,"v":2.44},{"t":829.5,"v":2.14},{"t":830.9,"v":1.79},{"t":832.3,"v":1.44},{"t":833.7,"v":1.39},{"t":835.1,"v":1.34},{"t":836.5,"v":1.14},{"t":837.9,"v":1.04},{"t":839.3,"v":0.95},{"t":840.7,"v":0.85},{"t":842.5,"v":0.5},{"t":843.9,"v":0.65},{"t":845.3,"v":0.85},{"t":846.7,"v":1.29},{"t":848.1,"v":1.74},{"t":849.5,"v":2.29},{"t":850.9,"v":2.39},{"t":852.3,"v":2.44},{"t":853.7,"v":2.34},{"t":855.1,"v":2.49},{"t":856.5,"v":2.69},{"t":857.9,"v":2.64},{"t":859.3,"v":2.74},{"t":860.7,"v":3.03},{"t":862,"v":3.33},{"t":863.4,"v":3.33},{"t":864.8,"v":3.35},{"t":866.2,"v":3.23},{"t":867.6,"v":3.08},{"t":869,"v":2.74},{"t":870,"v":2.59},{"t":871.3,"v":2.89},{"t":872.7,"v":2.89},{"t":874.1,"v":2.74},{"t":875.5,"v":2.29},{"t":876.9,"v":2.54},{"t":878.3,"v":2.74},{"t":879.7,"v":2.72},{"t":881.1,"v":2.59},{"t":882.5,"v":2.44},{"t":883.9,"v":2.29},{"t":885.3,"v":2.24},{"t":886.7,"v":2.19},{"t":888.1,"v":1.84},{"t":889.5,"v":1.34},{"t":890.9,"v":1.09},{"t":892.3,"v":1.54},{"t":893.7,"v":1.69},{"t":895.1,"v":1.69},{"t":896.5,"v":1.89},{"t":897.9,"v":1.99},{"t":899.3,"v":1.99},{"t":900.7,"v":2.14},{"t":902,"v":2.29},{"t":903.4,"v":2.24},{"t":904.8,"v":2.39},{"t":906.2,"v":2.44},{"t":907.6,"v":2.49},{"t":909,"v":2.44},{"t":910,"v":1.94},{"t":911.3,"v":1.89},{"t":912.7,"v":1.74},{"t":914.1,"v":1.54},{"t":915.5,"v":1.34},{"t":916.9,"v":1.59},{"t":918.3,"v":1.79},{"t":919.7,"v":1.54},{"t":921.1,"v":1.14},{"t":922.5,"v":0.75},{"t":923.9,"v":0.3},{"t":925.3,"v":-0.05},{"t":926.7,"v":-0.3},{"t":928.1,"v":-0.35},{"t":929.5,"v":0.05},{"t":930.9,"v":0.2},{"t":932.3,"v":0.3},{"t":933.7,"v":0.25},{"t":935.1,"v":0.1},{"t":936.5,"v":-0.05},{"t":937.9,"v":-0.25},{"t":939.3,"v":-0.55},{"t":940.7,"v":-0.9},{"t":942,"v":-0.8},{"t":943.4,"v":-0.9},{"t":944.4,"v":-1.39},{"t":945.8,"v":-1.49},{"t":947.2,"v":-1.64},{"t":948.6,"v":-1.74},{"t":950,"v":-1.59},{"t":951.3,"v":-1.62},{"t":952.7,"v":-1.44},{"t":954.1,"v":-1.34},{"t":955.5,"v":-1.29},{"t":956.9,"v":-1.24},{"t":958.3,"v":-1.29},{"t":959.7,"v":-1.39},{"t":961.1,"v":-1.34},{"t":962.5,"v":-0.95},{"t":963.9,"v":-0.65},{"t":965.3,"v":-0.55},{"t":966.7,"v":-0.3},{"t":968.1,"v":0.0},{"t":969.5,"v":0.3},{"t":970.9,"v":0.35},{"t":972.3,"v":0.4},{"t":973.7,"v":0.55},{"t":975.1,"v":0.7},{"t":976.5,"v":0.85},{"t":977.9,"v":0.99},{"t":979.3,"v":1.34},{"t":980.7,"v":1.59},{"t":982,"v":1.69},{"t":983.4,"v":1.69},{"t":984.8,"v":1.99},{"t":986.2,"v":1.89},{"t":987.6,"v":1.79},{"t":989,"v":1.64},{"t":990.4,"v":1.39},{"t":991.8,"v":1.79},{"t":993.2,"v":1.64},{"t":994.6,"v":1.74},{"t":996,"v":1.79},{"t":997.4,"v":2.09},{"t":998.8,"v":2.24},{"t":1000.2,"v":1.99},{"t":1001.6,"v":1.79}]
},
"vconcat":[
 {"width":1518,"height":320,"data":{"name":"pi"},
  "mark":{"type":"line","color":"#009AFA","strokeWidth":4},
  "encoding":{
   "x":{"field":"t","type":"quantitative","scale":{"domain":[-29,1030],"nice":false,"zero":false},"axis":{"values":[0,250,500,750,1000],"title":null}},
   "y":{"field":"v","type":"quantitative","scale":{"domain":[-3.46,3.48],"nice":false,"zero":false},"axis":{"values":[-3,-2,-1,0,1,2,3],"title":"πₜ","titleY":147}}
  }},
 {"width":1518,"height":320,"data":{"name":"y"},
  "mark":{"type":"line","color":"#009AFA","strokeWidth":4},
  "encoding":{
   "x":{"field":"t","type":"quantitative","scale":{"domain":[-29,1030],"nice":false,"zero":false},"axis":{"values":[0,250,500,750,1000],"title":"Periods","titleY":88,"titleBaseline":"alphabetic"}},
   "y":{"field":"v","type":"quantitative","scale":{"domain":[-4.13,5.42],"nice":false,"zero":false},"axis":{"values":[-4,-2,0,2,4],"title":"yₜ","titleY":143}}
  }}
]
}
